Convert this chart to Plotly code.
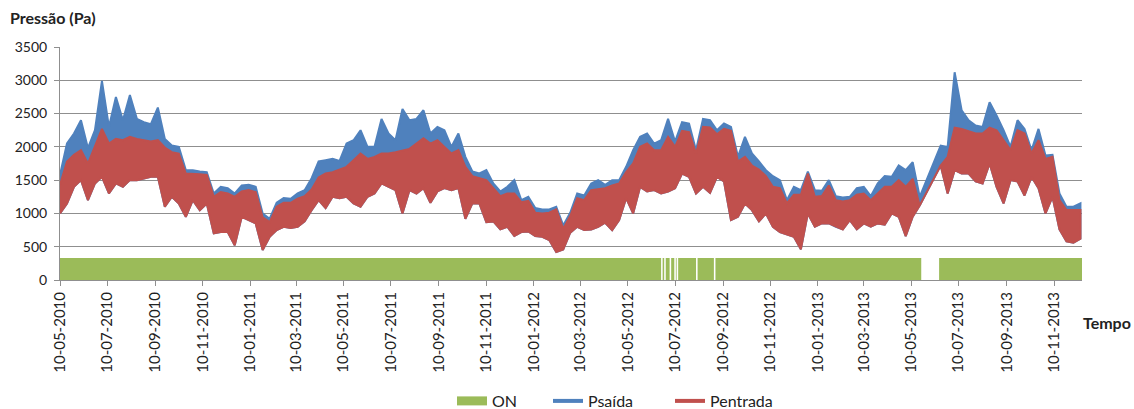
import pandas as pd
import plotly.graph_objects as go

# Sampling: one envelope reading every 9 days starting at 10-05-2010
start_date = "2010-05-10"
step = "9D"

# Psaída: upper envelope of the daily swing (Pa); None = no data (May/Jun 2013)
psaida_max = [
    1580, 2050, 2200, 2400, 1980, 2250, 2990, 2300, 2750, 2400,
    2780, 2420, 2370, 2340, 2590, 2120, 2020, 2000, 1650, 1650,
    1630, 1620, 1300, 1400, 1380, 1300, 1420, 1430, 1400, 1000,
    920, 1160, 1230, 1220, 1300, 1350, 1530, 1780, 1800, 1820,
    1790, 2050, 2100, 2250, 2000, 2000, 2420, 2200, 2100, 2570,
    2400, 2420, 2550, 2200, 2300, 2250, 2000, 2200, 1850, 1630,
    1600, 1650, 1450, 1330, 1400, 1500, 1200, 1250, 1080, 1060,
    1060, 1100, 820, 1010, 1300, 1270, 1450, 1500, 1430, 1500,
    1500, 1700, 1950, 2150, 2200, 2050, 2100, 2420, 2080, 2370,
    2350, 1950, 2420, 2400, 2250, 2350, 2300, 1850, 2150, 1900,
    1780, 1650, 1560, 1500, 1200, 1400, 1350, 1630, 1350, 1340,
    1500, 1260, 1240, 1250, 1380, 1400, 1260, 1450, 1560, 1550,
    1720, 1650, 1770, 1250, None, None, 2020, 2000, 3120, 2550,
    2400, 2320, 2300, 2670, 2470, 2250, 2000, 2400, 2270, 1950,
    2270, 1870, 1880, 1300, 1100, 1100, 1150,
]

# Pentrada: upper and lower envelope of the daily swing (Pa)
pentrada_max = [
    1430, 1780, 1880, 1950, 1750, 2000, 2270, 2050, 2120, 2100,
    2150, 2120, 2100, 2080, 2100, 1990, 1920, 1900, 1600, 1600,
    1590, 1580, 1250, 1320, 1300, 1250, 1330, 1350, 1320, 940,
    870, 1100, 1160, 1160, 1220, 1260, 1360, 1540, 1600, 1620,
    1660, 1700, 1800, 1900, 1820, 1850, 1900, 1900, 1920, 1950,
    1970, 2050, 2130, 2050, 2100, 2000, 1900, 1950, 1700, 1560,
    1530, 1500, 1380, 1260, 1300, 1300, 1170, 1190, 1010, 1000,
    1010, 1060, 770, 960, 1230, 1200, 1350, 1370, 1380, 1420,
    1450, 1620, 1750, 2000, 2050, 1950, 1950, 2150, 2000, 2240,
    2220, 1900, 2300, 2290, 2190, 2270, 2240, 1780, 1850, 1720,
    1660, 1560, 1400, 1380, 1150, 1280, 1280, 1600, 1250, 1260,
    1420, 1200, 1180, 1200, 1280, 1300, 1200, 1300, 1400, 1400,
    1500, 1400, 1520, 1120, None, None, 1720, 1850, 2290, 2270,
    2240, 2200, 2200, 2290, 2250, 2100, 1950, 2250, 2200, 1900,
    2100, 1820, 1850, 1200, 1050, 1050, 1050,
]

pentrada_min = [
    1000, 1150, 1400, 1500, 1200, 1450, 1550, 1300, 1450, 1400,
    1500, 1500, 1530, 1550, 1550, 1100, 1250, 1150, 950, 1200,
    1050, 1150, 700, 720, 720, 520, 950, 900, 850, 450,
    650, 750, 800, 780, 800, 880, 1050, 1200, 1080, 1250,
    1230, 1250, 1150, 1100, 1250, 1300, 1450, 1400, 1350, 1000,
    1350, 1300, 1380, 1160, 1330, 1380, 1350, 1380, 920, 1150,
    1150, 870, 880, 760, 800, 660, 720, 730, 660, 650,
    600, 420, 460, 710, 800, 750, 760, 800, 860, 750,
    900, 1230, 1000, 1400, 1330, 1350, 1300, 1330, 1380, 1600,
    1550, 1300, 1400, 1310, 1550, 1480, 900, 950, 1150, 1050,
    880, 1000, 800, 720, 690, 650, 460, 1000, 800, 850,
    850, 800, 760, 900, 760, 850, 800, 850, 830, 1000,
    950, 660, 950, 1120, None, None, 1720, 1300, 1650, 1600,
    1600, 1480, 1450, 1750, 1400, 1150, 1500, 1480, 1270, 1550,
    1380, 1000, 1250, 760, 580, 560, 620,
]

# ON state: level of the indicator band and the periods when it was off
on_level = 330
off_start = ["2012-06-22", "2012-06-26", "2012-07-03", "2012-07-09",
             "2012-07-12", "2012-08-06", "2012-08-29", "2013-05-23"]
off_end = ["2012-06-24", "2012-06-28", "2012-07-05", "2012-07-11",
           "2012-07-14", "2012-08-08", "2012-08-31", "2013-06-15"]
end_date = "2013-12-16"

GREEN = "#9BBB59"
BLUE = "#4F81BD"
RED = "#C0504D"
GRID = "#8F8F8F"
TEXT = "#222222"
FONT = "Lato"

dates = pd.date_range(start_date, periods=len(psaida_max), freq=step)


def band(dates, upper, lower):
    """Closed polygon (upper envelope forward, lower envelope back)."""
    pts = [(d, u, l) for d, u, l in zip(dates, upper, lower)
           if u is not None and l is not None]
    xs = [p[0] for p in pts]
    xs = xs + xs[::-1]
    ys = [p[1] for p in pts] + [p[2] for p in pts][::-1]
    return xs, ys


# ON indicator as a step area
on_x = [pd.Timestamp(start_date)]
on_y = [on_level]
for s, e in zip(off_start, off_end):
    on_x += [pd.Timestamp(s), pd.Timestamp(e)]
    on_y += [0, on_level]
on_x.append(pd.Timestamp(end_date))
on_y.append(on_level)

fig = go.Figure()

fig.add_trace(go.Scatter(
    x=on_x, y=on_y, mode="lines", line=dict(width=0, shape="hv"),
    fill="tozeroy", fillcolor=GREEN, showlegend=False, hoverinfo="skip",
))

px_, py_ = band(dates, psaida_max, pentrada_min)
fig.add_trace(go.Scatter(
    x=px_, y=py_, mode="lines", fill="toself", fillcolor=BLUE,
    line=dict(color=BLUE, width=2), showlegend=False, hoverinfo="skip",
))

rx_, ry_ = band(dates, pentrada_max, pentrada_min)
fig.add_trace(go.Scatter(
    x=rx_, y=ry_, mode="lines", fill="toself", fillcolor=RED,
    line=dict(color=RED, width=2), showlegend=False, hoverinfo="skip",
))

# legend entries, each in its own legend box so they can be spaced freely
legend_items = [("ON", GREEN, 9, "legend"), ("Psaída", BLUE, 4, "legend2"),
                ("Pentrada", RED, 4, "legend3")]
for name, color, width, lg in legend_items:
    fig.add_trace(go.Scatter(x=[None], y=[None], mode="lines", name=name,
                             legend=lg, line=dict(color=color, width=width)))

plot_l, plot_w = 60, 1022
plot_b, plot_h = 280, 233


def px_to_paper_x(px):
    return (px - plot_l) / plot_w


legend_style = dict(orientation="h", xanchor="left", yanchor="middle",
                    y=(plot_b - 401) / plot_h, bgcolor="rgba(0,0,0,0)",
                    font=dict(size=16, color=TEXT, family=FONT))

fig.update_layout(
    width=1134, height=409,
    margin=dict(l=60, r=52, t=47, b=129, autoexpand=False),
    paper_bgcolor="white", plot_bgcolor="white",
    font=dict(family=FONT, size=14, color=TEXT),
    showlegend=True,
    legend=dict(x=px_to_paper_x(452), **legend_style),
    legend2=dict(x=px_to_paper_x(548), **legend_style),
    legend3=dict(x=px_to_paper_x(670), **legend_style),
    xaxis=dict(
        type="date", range=[start_date, end_date], automargin=False,
        tick0=start_date, dtick="M2", tickformat="%d-%m-%Y",
        tickangle=-90, ticks="outside", ticklen=5, tickcolor=GRID,
        showline=True, linecolor=GRID, linewidth=1, showgrid=False,
        zeroline=False, tickfont=dict(size=15),
    ),
    yaxis=dict(
        range=[0, 3500], dtick=500, tick0=0, ticks="outside", ticklen=5,
        tickcolor=GRID, showline=True, linecolor=GRID, linewidth=1,
        showgrid=True, gridcolor=GRID, gridwidth=1, zeroline=False,
        automargin=False, tickfont=dict(size=14), ticklabelstandoff=4,
    ),
    annotations=[
        dict(text="<b>Pressão (Pa)</b>", xref="paper", yref="paper",
             x=px_to_paper_x(8), y=(plot_b - 17) / plot_h, xanchor="left",
             yanchor="middle", showarrow=False,
             font=dict(size=16, color=TEXT)),
        dict(text="<b>Tempo</b>", xref="paper", yref="paper",
             x=px_to_paper_x(1107), y=(plot_b - 322) / plot_h,
             xanchor="center", yanchor="middle", showarrow=False,
             font=dict(size=16, color=TEXT)),
    ],
)

fig.write_html("out.html")
